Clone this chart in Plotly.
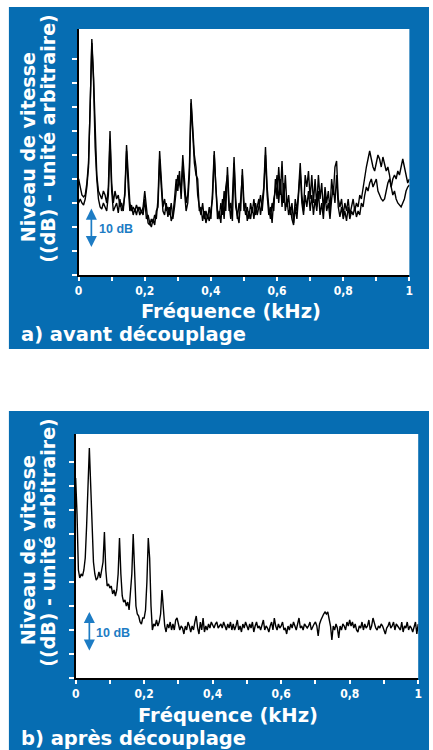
import numpy as np
import plotly.graph_objects as go

# ---- data (vibration velocity level, dB, arbitrary reference) ----
# panel a: before decoupling, two measurements, 0..1 kHz in steps of 5 Hz
level_a1 = [
    24, 22, 20, 19.5, 20, 23, 28, 42, 59, 50, 34, 25, 21, 20, 19, 21, 20, 18, 22, 36,
    23, 18, 21, 19, 20, 17, 18, 16, 21, 32.5, 24, 18, 16, 17, 16, 17.5, 16, 17, 15.5, 17,
    21, 16, 13, 12.5, 14, 13, 15, 14, 19, 31, 24, 17, 19, 16, 17, 15, 18, 14, 17, 22,
    25, 23, 21, 30, 23, 18, 20, 27, 44, 38, 30, 27, 20, 17, 15, 18, 14, 16, 14, 17,
    14, 21, 31, 22, 16, 14, 18, 15, 21, 16, 27, 18, 14, 19, 29.5, 19, 14, 18, 16, 26.5,
    18, 15, 17, 14, 18, 15.5, 19, 15, 17, 19, 15, 18, 22, 32, 22, 17, 14, 18, 16, 24,
    19, 27, 20, 28.5, 18, 25, 17, 20, 15, 18, 13, 19, 16, 21, 28, 20, 16, 25, 22, 26,
    19, 25, 18, 24, 17, 25, 19, 23, 16, 22, 18, 21, 16, 24, 20, 27, 28.5, 19, 17, 19,
    15, 18, 16, 19, 15, 17, 19, 16, 18, 17, 20, 19, 22, 24, 27, 29, 31, 29, 27, 26,
    28, 30, 29, 27, 29.5, 28, 26, 27, 25, 22, 20, 21, 19, 18, 17.5, 17, 18, 19, 21, 22,
    22.5,
]
level_a2 = [
    18, 19, 18, 17.5, 19, 22, 27, 40, 58, 49, 32, 24, 19, 17, 16.5, 18, 17, 16, 20, 34,
    21, 16, 17, 18, 15.5, 19, 16, 17, 20, 31, 22, 16, 17.5, 15, 16.5, 15, 17, 15, 16, 15,
    19, 14, 15, 13, 12, 14, 12.5, 16, 17, 29, 22, 16, 15, 18, 14.5, 17, 13.5, 15, 19, 24,
    21, 26, 19, 28, 21, 16, 18, 25, 43, 36, 28, 25, 24, 16, 17, 13.5, 16, 13, 15, 13.5,
    16, 19, 30, 20, 14, 16, 13, 19, 14, 22, 25, 16, 18, 13.5, 28, 17, 15, 13, 19, 25,
    16, 18, 13.5, 16, 14, 17, 14, 18, 15, 17, 20, 16, 21, 30, 20, 15, 17, 13, 19, 21,
    25, 18, 24, 17, 23, 16, 19, 15, 17, 14, 12.5, 17, 14, 19, 26, 18, 15, 20, 17, 21,
    16, 20, 15, 19, 16, 21, 15, 18, 14, 20, 16, 18, 14, 19, 22, 18, 25, 17, 14.5, 17,
    14, 16, 13.5, 17, 14, 16, 15, 17, 14.5, 16, 15, 18, 17, 20, 22, 21, 23, 24, 22, 23,
    24, 21, 20, 19, 18.5, 19, 21, 23, 24, 22, 24, 25, 24, 26, 25, 27, 29, 27, 25, 23,
    24,
]
# panel b: after decoupling, 0..1 kHz in steps of 4 Hz
level_b = [
    50, 41, 27, 25, 26, 25.5, 27, 30, 38, 49, 57.5, 48, 36, 29, 26, 24.5, 25, 26.5, 25, 27,
    29, 36.5, 27, 23, 23.5, 22.5, 23, 21, 22, 20.5, 22, 26, 35, 26, 20.5, 19, 19.5, 18, 19, 17,
    21, 26, 36, 27, 18, 16, 15.5, 14, 13.5, 15, 15, 17, 24, 35, 30, 18, 12, 13.5, 13, 14.5,
    13, 14, 16, 22, 18, 13, 11.5, 13.5, 12.5, 14, 12, 13.5, 12, 14.5, 15, 13, 12, 13, 12.5, 11,
    13, 12, 14, 13, 11.5, 13, 12, 14, 15.5, 12.5, 11, 14, 12, 15, 11.5, 13, 12, 13.5, 12.5, 14,
    13, 12.5, 13.5, 14, 12.5, 13, 13.5, 12.5, 14, 13, 12, 13.5, 12.5, 14, 12, 13.5, 12, 13, 14.5, 12,
    13, 11.5, 13.5, 12.5, 14, 13, 12, 13.5, 12.5, 14, 11.5, 13, 14, 12.5, 13, 12, 13.5, 14.5, 12, 13,
    12.5, 11.5, 13, 14, 12, 15, 13, 12, 13.5, 12.5, 13, 14, 12, 12.5, 11, 13, 12, 13.5, 12.5, 14,
    13, 12, 13.5, 15, 12.5, 13, 12, 13.5, 13, 12.5, 13, 14, 12, 13, 13.5, 14, 13, 10.5, 13.5, 14.5,
    15.5, 16, 16.5, 16, 16.5, 15, 13, 9.5, 13, 12, 13.5, 12.5, 10, 13, 12, 13.5, 13, 12, 14, 13,
    14.5, 13, 14, 12.5, 13.5, 12, 11.5, 13, 12.5, 14, 12, 13.5, 12.5, 13, 14.5, 12, 13, 15, 13.5, 12.5,
    12, 13, 12.5, 13.5, 13, 12, 11, 12.5, 13, 14, 12.5, 13, 14, 12, 13.5, 13, 12.5, 12, 14, 11.5,
    13, 12.5, 14, 12, 13, 12.5, 11.5, 13, 14, 11, 13.5,
]

freq_a = np.linspace(0.0, 1.0, len(level_a1))
freq_a2 = np.linspace(0.0, 1.0, len(level_a2))
freq_b = np.linspace(0.0, 1.0, len(level_b))

x_tickvals = [0, 0.1, 0.2, 0.3, 0.4, 0.5, 0.6, 0.7, 0.8, 0.9, 1.0]
x_ticktext = ["0", "", "0,2", "", "0,4", "", "0,6", "", "0,8", "", "1"]
y_tickvals = [0, 6, 12, 18, 24, 30, 36, 42, 48, 54]
scale_span = 10  # dB span of the scale arrow

# ---- styling ----
W, H = 433, 750
BLUE = "#066db2"
ARROW_BLUE = "#1d7cc4"
TEXT_FONT = "DejaVu Sans, Verdana, sans-serif"
TICK_FONT = "Liberation Sans Narrow, DejaVu Sans Condensed, Arial Narrow, sans-serif"


def px(x):
    return x / W


def py(y):
    return 1 - y / H


fig = go.Figure()
line_style = dict(color="black", width=1.4)
fig.add_trace(go.Scatter(x=freq_a, y=level_a1, mode="lines", line=line_style,
                         xaxis="x", yaxis="y", hoverinfo="skip"))
fig.add_trace(go.Scatter(x=freq_a2, y=level_a2, mode="lines", line=line_style,
                         xaxis="x", yaxis="y", hoverinfo="skip"))
fig.add_trace(go.Scatter(x=freq_b, y=level_b, mode="lines", line=line_style,
                         xaxis="x2", yaxis="y2", hoverinfo="skip"))

xaxis_common = dict(
    range=[0, 1], tickvals=x_tickvals, ticktext=x_ticktext,
    ticks="outside", ticklen=4, tickwidth=1.5, tickcolor="white",
    showline=True, linecolor="black", linewidth=2,
    showgrid=False, zeroline=False,
    tickfont=dict(family=TICK_FONT, size=12, color="white", weight="bold"),
    fixedrange=True,
)
yaxis_common = dict(
    tickvals=y_tickvals, showticklabels=False,
    ticks="outside", ticklen=5, tickwidth=1.5, tickcolor="white",
    showline=True, linecolor="black", linewidth=2,
    showgrid=False, zeroline=False, fixedrange=True,
)

fig.update_layout(
    width=W, height=H,
    margin=dict(l=0, r=0, t=0, b=0),
    paper_bgcolor="white", plot_bgcolor="white",
    showlegend=False,
    xaxis=dict(domain=[px(76), px(413)], anchor="y", **xaxis_common),
    yaxis=dict(domain=[py(275), py(29)], anchor="x", range=[0, 61.5], **yaxis_common),
    xaxis2=dict(domain=[px(73), px(422)], anchor="y2", **xaxis_common),
    yaxis2=dict(domain=[py(678), py(434)], anchor="x2", range=[0, 61], **yaxis_common),
)

# blue panels and white plotting areas
panels = [
    dict(x0=5, y0=7, x1=433, y1=349, px0=76, py0=29, px1=413, py1=275),
    dict(x0=5, y0=411, x1=433, y1=750, px0=73, py0=434, px1=422, py1=678),
]
for p in panels:
    fig.add_shape(type="rect", xref="paper", yref="paper", layer="below",
                  x0=px(p["x0"]), x1=px(p["x1"]), y0=py(p["y1"]), y1=py(p["y0"]),
                  fillcolor=BLUE, line=dict(width=0))
    fig.add_shape(type="rect", xref="paper", yref="paper", layer="below",
                  x0=px(p["px0"]), x1=px(p["px1"]), y0=py(p["py1"]), y1=py(p["py0"]),
                  fillcolor="white", line=dict(width=0))

title_font = dict(family=TEXT_FONT, size=19.5, color="white", weight="bold")
ytitle_font = dict(family=TEXT_FONT, size=19, color="white", weight="bold")

panel_text = [
    dict(fx=231, fy=311, lx=15, ly=334.3, label="a) avant découplage",
         y1=147, y2=139, xr="x", yr="y", ax_f=0.0386, ax_lo=6.6, lab_f=0.057, lab_y=11.6),
    dict(fx=228, fy=715, lx=15, ly=738, label="b) après découplage",
         y1=550, y2=543, xr="x2", yr="y2", ax_f=0.04, ax_lo=6.5, lab_f=0.055, lab_y=11.3),
]
for t in panel_text:
    fig.add_annotation(text="Fréquence (kHz)", xref="paper", yref="paper",
                       x=px(t["fx"]), y=py(t["fy"]), xanchor="center", yanchor="middle",
                       showarrow=False, font=title_font)
    fig.add_annotation(text=t["label"], xref="paper", yref="paper",
                       x=px(t["lx"]), y=py(t["ly"]), xanchor="left", yanchor="middle",
                       showarrow=False, font=title_font)
    fig.add_annotation(text="Niveau de vitesse", xref="paper", yref="paper",
                       x=px(24.7), y=py(t["y1"]), xanchor="center", yanchor="middle",
                       textangle=-90, showarrow=False, font=ytitle_font)
    fig.add_annotation(text="((dB) - unité arbitraire)", xref="paper", yref="paper",
                       x=px(44.5), y=py(t["y2"]), xanchor="center", yanchor="middle",
                       textangle=-90, showarrow=False, font=ytitle_font)
    # 10 dB scale arrow
    fig.add_annotation(text="", xref=t["xr"], yref=t["yr"], axref=t["xr"], ayref=t["yr"],
                       x=t["ax_f"], y=t["ax_lo"] + scale_span,
                       ax=t["ax_f"], ay=t["ax_lo"],
                       showarrow=True, arrowside="end+start", arrowhead=2,
                       arrowsize=1.3, arrowwidth=1.7, arrowcolor=ARROW_BLUE)
    fig.add_annotation(text=f"{scale_span} dB", xref=t["xr"], yref=t["yr"],
                       x=t["lab_f"], y=t["lab_y"], xanchor="left", yanchor="middle",
                       showarrow=False,
                       font=dict(family="Liberation Sans, Arial, sans-serif", size=12.5,
                                 color=ARROW_BLUE, weight="bold"))

fig.write_html("out.html")
